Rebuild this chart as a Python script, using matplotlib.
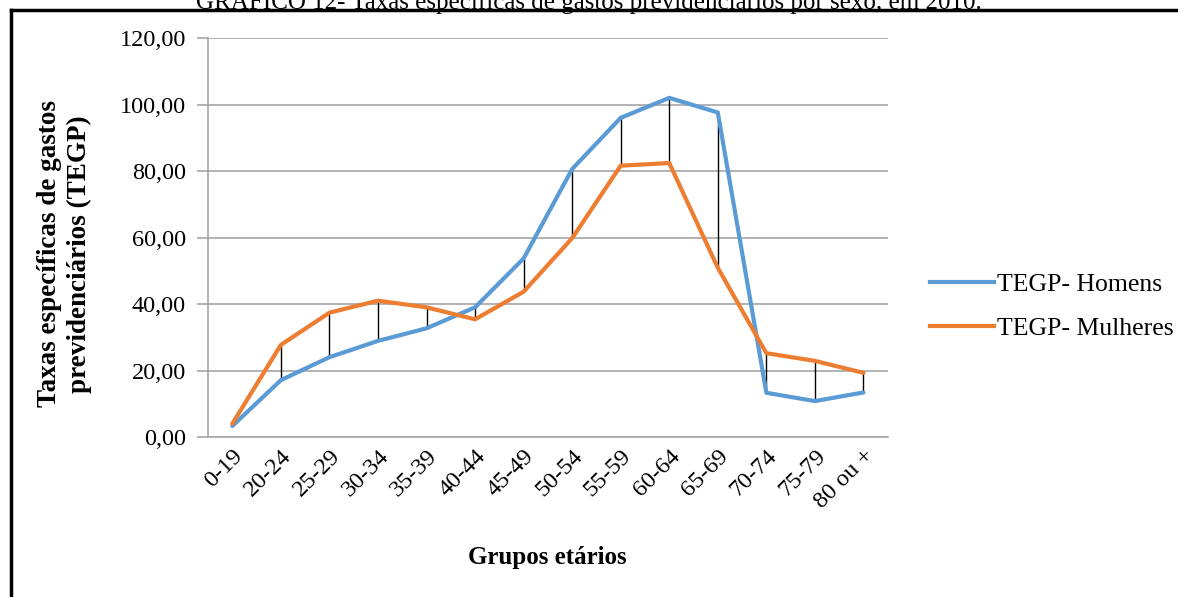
import numpy as np
import matplotlib.pyplot as plt
from matplotlib.lines import Line2D

# --- data ---
grupos = ['0-19', '20-24', '25-29', '30-34', '35-39', '40-44', '45-49',
          '50-54', '55-59', '60-64', '65-69', '70-74', '75-79', '80 ou +']
homens = [3.3, 17.1, 24.0, 28.9, 32.7, 39.0, 53.7, 80.6, 96.0, 102.0, 97.6, 13.3, 10.8, 13.4]
mulheres = [4.0, 27.7, 37.4, 41.0, 39.0, 35.4, 43.7, 59.8, 81.6, 82.4, 50.9, 25.2, 22.9, 19.3]
y_ticks = [0, 20, 40, 60, 80, 100, 120]

plt.rcParams['font.family'] = ['Liberation Serif', 'DejaVu Serif']

fig = plt.figure(figsize=(11.78, 5.97), dpi=100)
ax = fig.add_axes([0.1766, 0.268, 0.577, 0.6683])

x = np.arange(len(grupos))
blue = '#5b9bd5'
orange = '#ed7d31'

# drop lines between the two series
ax.vlines(x, np.minimum(homens, mulheres), np.maximum(homens, mulheres),
          color='black', linewidth=1, zorder=2)
ax.plot(x, homens, color=blue, linewidth=3, solid_capstyle='round', zorder=3)
ax.plot(x, mulheres, color=orange, linewidth=3, solid_capstyle='round', zorder=3)

ax.set_xlim(-0.5, len(grupos) - 0.5)
ax.set_ylim(0, 120)
ax.set_yticks(y_ticks)
ax.set_yticklabels([f'{v:.2f}'.replace('.', ',') for v in y_ticks], fontsize=17.5)
ax.set_xticks(x)
ax.set_xticklabels(grupos, rotation=45, ha='right', va='top',
                   rotation_mode='anchor', fontsize=17.5)
ax.tick_params(axis='x', length=0, pad=6)
ax.tick_params(axis='y', length=8, color='#a6a6a6', width=1.2, pad=8)
ax.grid(axis='y', color='#a6a6a6', linewidth=1.2)
ax.set_axisbelow(True)
for s in ('top', 'right'):
    ax.spines[s].set_visible(False)
for s in ('left', 'bottom'):
    ax.spines[s].set_color('#a6a6a6')
    ax.spines[s].set_linewidth(1.2)

fig.text(0.055, 0.575, 'Taxas específicas de gastos\nprevidenciários (TEGP)',
         rotation=90, ha='center', va='center', fontsize=19.5, fontweight='bold',
         linespacing=1.25)
fig.text(0.465, 0.067, 'Grupos etários', ha='center', va='center',
         fontsize=18, fontweight='bold')

handles = [Line2D([], [], color=blue, linewidth=3),
           Line2D([], [], color=orange, linewidth=3)]
fig.legend(handles, ['TEGP- Homens', 'TEGP- Mulheres'], loc='center left',
           bbox_to_anchor=(0.77, 0.487), frameon=False, fontsize=18.5,
           handlelength=2.5, handletextpad=0.1, labelspacing=0.8)

# clipped caption and frame from the source page
fig.text(0.5, 1.0, 'GRÁFICO 12- Taxas específicas de gastos previdenciários por sexo, em 2010.',
         ha='center', va='center', fontsize=18)
fig.add_artist(Line2D([0.0095, 1.0], [0.983, 0.983], color='black', linewidth=2.5))
fig.add_artist(Line2D([0.0095, 0.0095], [0.0, 0.983], color='black', linewidth=2.5))

fig.savefig('out.png', dpi=100)
